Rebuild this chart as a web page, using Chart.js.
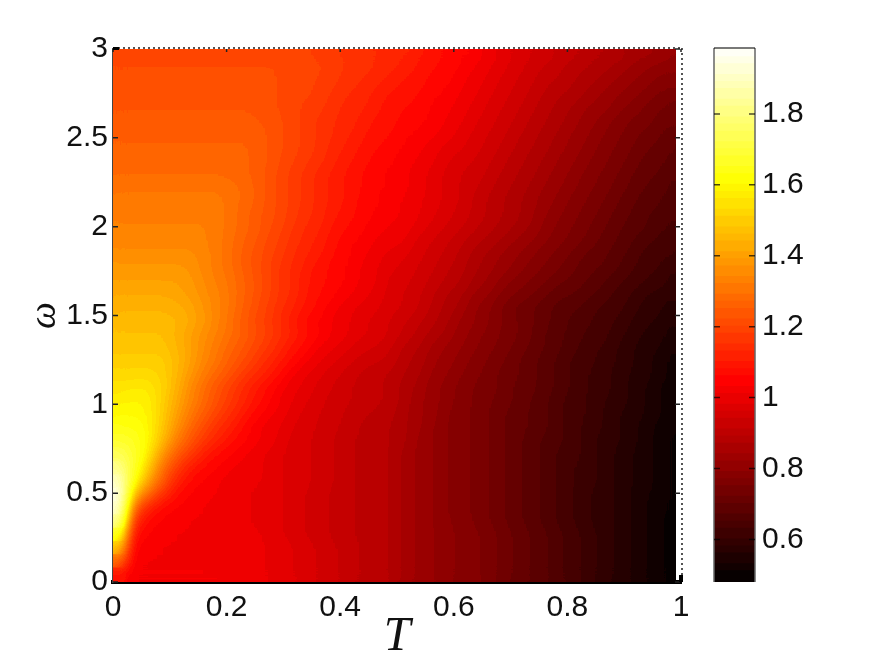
<!DOCTYPE html>
<html>
<head>
<meta charset="utf-8">
<title>T - omega map</title>
<script src="https://cdn.jsdelivr.net/npm/chart.js@4"></script>
<style>
html, body { margin: 0; padding: 0; background: #fff; }
#wrap { position: relative; width: 872px; height: 656px; overflow: hidden; }
canvas { position: absolute; top: 0; display: block; }
#mainChart { left: 0; }
#barChart { left: 690px; }
</style>
</head>
<body>
<div id="wrap">
<canvas id="mainChart" width="872" height="656"></canvas>
<canvas id="barChart" width="182" height="656"></canvas>
</div>
<script>
// tick labels
var xTicks = [0, 0.2, 0.4, 0.6, 0.8, 1];
var yTicks = [0, 0.5, 1, 1.5, 2, 2.5, 3];
var barTicks = [0.6, 0.8, 1, 1.2, 1.4, 1.6, 1.8];

// cell centres
var tValues = [0.0125,0.0375,0.0625,0.0875,0.1125,0.1375,0.1625,0.1875,0.2125,0.2375,0.2625,0.2875,0.3125,0.3375,0.3625,0.3875,0.4125,0.4375,0.4625,0.4875,0.5125,0.5375,0.5625,0.5875,0.6125,0.6375,0.6625,0.6875,0.7125,0.7375,0.7625,0.7875,0.8125,0.8375,0.8625,0.8875,0.9125,0.9375,0.9625,0.9875];
var wValues = [2.9625,2.8875,2.8125,2.7375,2.6625,2.5875,2.5125,2.4375,2.3625,2.2875,2.2125,2.1375,2.0625,1.9875,1.9125,1.8375,1.7625,1.6875,1.6125,1.5375,1.4625,1.3875,1.3125,1.2375,1.1625,1.0875,1.0125,0.9375,0.8625,0.7875,0.7125,0.6375,0.5625,0.4875,0.4125,0.3375,0.2625,0.1875,0.1125,0.0375];

// values, in hundredths, one row per omega from the top down
var cells = [
[120,120,120,120,120,120,120,120,120,120,120,120,120,119,118,117,116,115,114,113,112,110,108,107,105,104,101,99,97,95,94,92,91,89,88,87,85,84,83,81],
[121,121,121,121,121,121,121,121,121,121,121,121,120,120,119,118,116,115,114,112,111,109,107,106,104,102,100,98,96,94,92,91,89,88,86,85,83,81,80,79],
[122,122,122,122,122,122,122,122,122,122,122,121,120,120,118,117,115,114,112,111,109,108,106,105,103,101,99,97,95,93,91,90,88,86,85,83,81,80,78,77],
[122,122,122,122,122,122,122,122,122,122,122,121,120,119,118,116,114,113,111,109,108,107,105,104,102,100,98,96,94,92,90,88,87,85,83,81,80,78,76,75],
[123,123,123,123,123,123,123,123,123,123,122,121,120,118,117,115,113,112,110,108,107,106,104,103,101,99,97,95,93,91,89,87,85,83,82,80,78,76,74,73],
[124,124,124,124,124,124,124,124,124,124,123,122,120,118,116,114,113,111,109,108,106,105,104,102,100,98,96,94,92,90,88,86,84,82,80,78,76,75,73,72],
[125,125,125,125,125,125,125,125,125,125,124,122,120,118,116,114,112,110,108,107,105,104,103,101,99,97,95,93,91,89,87,85,83,81,79,77,75,73,72,70],
[126,126,126,126,126,126,126,126,126,126,124,122,120,118,116,113,111,109,107,106,104,103,101,99,98,96,94,92,90,88,86,84,82,80,78,76,74,72,71,69],
[127,127,127,127,127,127,127,127,127,126,124,122,119,117,115,112,110,108,106,105,103,102,100,98,96,95,93,91,89,87,85,83,81,79,77,75,73,71,70,68],
[128,128,128,128,128,128,128,128,127,126,124,121,118,116,113,111,109,107,105,104,103,101,99,97,95,94,92,90,88,86,84,82,80,78,76,74,72,70,69,67],
[130,130,130,130,130,130,130,130,129,127,124,121,118,116,113,111,109,107,105,104,103,101,99,97,95,93,91,89,87,85,83,81,79,77,75,73,71,69,68,66],
[131,131,131,131,131,131,131,131,129,127,124,121,118,116,113,111,109,106,105,103,102,100,99,97,95,92,90,88,86,84,82,80,78,76,74,72,70,68,67,65],
[132,132,132,132,132,132,132,131,129,126,123,121,118,115,113,110,108,106,104,103,102,100,98,96,94,92,90,88,86,84,81,79,77,75,73,71,69,67,66,65],
[133,133,133,133,133,133,133,131,129,126,123,120,117,114,112,109,107,105,103,102,101,99,97,95,93,91,89,87,85,83,80,78,76,74,72,70,68,67,65,64],
[134,134,134,134,134,134,133,131,128,125,122,119,116,113,111,108,105,104,102,101,100,97,95,93,91,89,87,85,83,81,79,77,75,73,71,69,67,65,64,63],
[136,136,136,136,136,136,134,131,128,124,121,118,115,112,110,107,105,103,101,99,98,96,94,92,90,87,85,83,81,79,77,75,73,71,70,68,66,64,63,62],
[138,138,138,138,138,137,134,131,128,124,121,117,114,111,108,106,104,102,100,98,97,95,93,91,89,86,84,82,80,78,76,74,72,70,69,67,65,63,62,60],
[140,140,140,140,140,138,135,132,129,125,121,117,114,110,108,106,104,102,100,97,96,94,92,90,88,85,83,80,78,76,74,72,71,69,67,65,64,62,61,59],
[142,142,142,142,141,139,136,133,129,125,121,117,114,110,107,105,103,101,99,97,95,93,91,88,86,83,81,78,76,74,72,70,69,67,66,64,62,60,59,58],
[144,144,144,144,143,141,137,133,129,124,120,116,112,109,106,103,101,99,98,96,95,93,90,87,85,81,79,76,73,72,70,68,67,66,64,63,61,59,58,56],
[146,146,146,146,145,142,138,133,128,123,119,115,111,107,104,102,100,98,97,95,93,91,89,86,83,81,79,76,74,72,70,68,66,65,63,62,60,58,57,55],
[147,147,147,147,144,140,136,132,128,124,120,116,112,108,105,102,100,98,97,95,92,90,87,85,82,80,78,76,74,72,69,67,66,64,63,61,59,57,56,54],
[148,148,148,148,145,140,135,130,126,122,118,114,109,106,102,100,98,96,95,93,90,88,85,83,81,79,77,75,73,71,69,67,65,63,62,60,58,56,55,53],
[150,150,150,150,146,140,134,129,124,120,115,111,107,103,100,98,96,94,93,92,89,87,84,82,80,78,76,74,72,70,68,66,64,63,61,60,58,56,54,52],
[152,153,153,151,145,138,131,126,121,116,112,108,103,100,98,96,94,92,91,90,88,86,83,81,79,77,75,73,72,70,68,66,64,62,61,59,57,56,54,52],
[155,156,156,152,144,135,128,122,117,112,108,104,101,99,97,95,93,92,91,90,87,85,82,80,78,76,75,73,71,70,68,66,64,62,61,59,57,55,53,51],
[158,159,158,151,142,134,127,121,116,111,107,103,100,98,96,94,93,92,91,90,87,84,82,80,78,76,74,73,71,69,67,65,63,62,60,59,57,55,53,51],
[160,160,159,150,140,131,124,118,113,108,104,102,99,97,95,94,92,91,90,89,86,84,82,79,77,76,74,72,70,69,67,65,63,62,60,58,56,55,53,51],
[164,163,160,149,137,127,120,114,110,105,102,100,98,96,95,93,92,90,89,88,86,84,81,79,77,76,74,72,70,69,67,65,63,61,60,58,56,54,52,51],
[168,166,160,146,132,123,116,111,107,104,102,100,97,96,94,93,91,90,89,88,86,83,81,79,77,76,74,72,70,68,66,65,63,61,59,58,56,54,52,50],
[174,168,157,138,125,117,110,106,104,102,100,98,97,96,94,93,91,90,89,88,85,83,81,79,77,76,74,72,70,68,66,64,63,61,59,57,55,54,52,50],
[182,167,150,130,118,110,106,104,102,101,100,98,97,96,94,93,91,90,89,88,85,83,81,79,77,76,74,72,70,68,66,64,62,61,59,57,55,54,52,50],
[190,163,141,125,112,106,104,102,101,100,100,98,97,96,94,93,91,90,89,88,85,83,81,79,77,76,74,72,70,68,66,64,62,61,59,57,55,54,52,50],
[195,147,128,115,107,104,103,102,101,100,99,98,97,95,94,92,91,90,89,88,85,83,81,79,77,76,74,72,70,68,66,64,62,60,59,57,55,53,52,50],
[192,128,112,106,104,103,102,101,100,100,99,98,97,95,94,92,91,90,89,88,85,83,81,79,77,76,74,72,70,68,66,64,62,60,59,57,55,53,51,50],
[182,115,106,104,103,102,102,101,100,100,99,98,97,95,94,92,91,90,89,88,85,83,81,79,78,76,74,72,70,68,66,64,62,60,59,57,55,53,51,49],
[165,108,104,103,102,102,101,100,100,100,100,98,97,95,94,92,91,90,89,88,85,83,81,80,78,77,75,73,71,69,67,65,63,61,59,57,55,53,51,49],
[148,104,103,102,102,102,101,101,100,100,100,99,98,96,95,93,92,90,89,88,85,83,81,80,78,77,75,73,71,69,67,65,63,61,59,57,55,53,51,49],
[128,103,102,102,102,102,102,101,101,100,100,99,98,96,95,93,92,90,89,88,85,83,81,80,78,77,75,73,71,69,67,65,63,61,59,57,55,53,51,49],
[108,102,102,102,102,102,102,102,101,101,100,99,98,96,95,93,92,90,89,88,85,83,81,80,78,77,75,73,71,69,67,65,63,61,59,57,55,53,51,49]
];

// bands of the colour bar
var barLevels = [0.48,0.51,0.53,0.56,0.58,0.60,0.63,0.65,0.67,0.70,0.72,0.75,0.77,0.79,0.82,0.84,0.87,0.89,0.91,0.94,0.96,0.98,1.01,1.03,1.06,1.08,1.10,1.13,1.15,1.18,1.20,1.22,1.25,1.27,1.29,1.32,1.34,1.37,1.39,1.41,1.44,1.46,1.48,1.51,1.53,1.56,1.58,1.60,1.63,1.65,1.68,1.70,1.72,1.75,1.77,1.79,1.82,1.84,1.87,1.89,1.91,1.94,1.96,1.986];

var vMin = 0.48;
var vMax = 1.986;

// matlab "hot" colormap
function hotParts(t) {
    if (t < 0) t = 0;
    if (t > 1) t = 1;
    return [
        Math.round(Math.min(1, t / 0.375) * 255),
        Math.round(Math.max(0, Math.min(1, (t - 0.375) / 0.375)) * 255),
        Math.round(Math.max(0, (t - 0.75) / 0.25) * 255)
    ];
}

function hot(v) {
    var c = hotParts((v - vMin) / (vMax - vMin));
    return 'rgb(' + c[0] + ',' + c[1] + ',' + c[2] + ')';
}

var points = [];
var colors = [];
for (var j = 0; j < wValues.length; j++) {
    for (var i = 0; i < tValues.length; i++) {
        points.push({x: tValues[i], y: wValues[j]});
        colors.push(hot(cells[j][i] / 100));
    }
}

var tickFont = {family: '"Liberation Sans", Arial, sans-serif', size: 30};

function fmt(v) {
    return String(v);
}

// the cells are smoothed like contourf, inside the area of the image only,
// then the colours are snapped back on the 64 steps of the colormap
var smoothCells = {
    id: 'smoothCells',
    afterDatasetsDraw: function(chart) {
        var ctx = chart.ctx;
        var a = chart.chartArea;
        var w = Math.round(a.right - a.left - 5);
        var h = Math.round(a.bottom - a.top);
        var x0 = Math.round(a.left);
        var y0 = Math.round(a.top);
        ctx.save();
        ctx.beginPath();
        ctx.rect(x0, y0, w, h);
        ctx.clip();
        ctx.filter = 'blur(7px)';
        ctx.drawImage(chart.canvas, x0, y0, w, h, x0, y0, w, h);
        ctx.restore();

        var img = ctx.getImageData(x0, y0, w, h);
        var d = img.data;
        for (var p = 0; p < d.length; p += 4) {
            var s = (d[p] + d[p + 1] + d[p + 2]) / 255;
            var t = s < 2 ? 0.375 * s : 0.75 + 0.25 * (s - 2);
            var level = Math.min(63, Math.floor(t * 64));
            var c = hotParts((level + 0.5) / 64);
            d[p] = c[0];
            d[p + 1] = c[1];
            d[p + 2] = c[2];
        }
        ctx.putImageData(img, x0, y0);
    }
};

// dotted box and small inward ticks
var boxLines = {
    id: 'boxLines',
    afterDraw: function(chart) {
        var ctx = chart.ctx;
        var a = chart.chartArea;
        ctx.save();
        ctx.strokeStyle = '#555';
        ctx.lineWidth = 2;
        ctx.setLineDash([2, 3]);
        ctx.beginPath();
        ctx.moveTo(a.left, a.top - 1);
        ctx.lineTo(a.right + 1, a.top - 1);
        ctx.moveTo(a.right + 1, a.top - 1);
        ctx.lineTo(a.right + 1, a.bottom);
        ctx.stroke();
        ctx.setLineDash([]);
        ctx.strokeStyle = '#222';
        ctx.lineWidth = 1.5;
        ctx.beginPath();
        chart.scales.y.ticks.forEach(function(t) {
            var y = chart.scales.y.getPixelForValue(t.value);
            ctx.moveTo(a.right - 6, y);
            ctx.lineTo(a.right - 1, y);
            ctx.moveTo(a.left, y);
            ctx.lineTo(a.left + 5, y);
        });
        chart.scales.x.ticks.forEach(function(t) {
            var x = chart.scales.x.getPixelForValue(t.value);
            ctx.moveTo(x, a.top);
            ctx.lineTo(x, a.top + 3);
        });
        ctx.stroke();
        ctx.fillStyle = '#000';
        ctx.fillRect(a.right - 2, a.bottom - 7, 4, 7);
        ctx.fillRect(a.left, a.top - 2, 6, 3);
        ctx.restore();
    }
};

new Chart(document.getElementById('mainChart'), {
    type: 'scatter',
    data: {
        datasets: [{
            data: points,
            pointStyle: 'rect',
            pointRadius: 11,
            pointBorderWidth: 0,
            pointBackgroundColor: colors,
            clip: {left: 0, top: 0, right: -5, bottom: 0}
        }]
    },
    options: {
        responsive: false,
        animation: false,
        events: [],
        layout: {padding: {left: 0, right: 191, top: 49, bottom: 0}},
        plugins: {legend: {display: false}, tooltip: {enabled: false}},
        scales: {
            x: {
                type: 'linear',
                min: 0,
                max: 1,
                z: 1,
                afterFit: function(s) { s.height = 74; },
                afterBuildTicks: function(s) { s.ticks = xTicks.map(function(v) { return {value: v}; }); },
                grid: {display: false, drawTicks: false},
                border: {display: true, color: '#000', width: 4},
                ticks: {color: '#111', font: tickFont, padding: 8, maxRotation: 0, autoSkip: false, callback: fmt},
                title: {
                    display: true,
                    text: 'T',
                    color: '#111',
                    font: {family: '"Liberation Serif", serif', style: 'italic', size: 48, lineHeight: 1},
                    padding: {top: 0, bottom: -5}
                }
            },
            y: {
                type: 'linear',
                min: 0,
                max: 3,
                z: 1,
                afterFit: function(s) { s.width = 113; },
                afterBuildTicks: function(s) { s.ticks = yTicks.map(function(v) { return {value: v}; }); },
                grid: {display: false, drawTicks: false},
                border: {display: true, color: '#444', width: 2},
                ticks: {color: '#111', font: tickFont, padding: 5, autoSkip: false, callback: fmt},
                title: {
                    display: true,
                    text: 'ω',
                    color: '#111',
                    font: {family: '"Liberation Serif", serif', style: 'italic', size: 38, lineHeight: 1},
                    padding: {top: 26, bottom: 0}
                }
            }
        }
    },
    plugins: [smoothCells, boxLines]
});

// colour bar, one floating bar for each band
var barSets = [];
for (var k = 0; k < barLevels.length - 1; k++) {
    barSets.push({
        data: [[barLevels[k], barLevels[k + 1] + 0.002]],
        backgroundColor: hot((barLevels[k] + barLevels[k + 1]) / 2),
        borderWidth: 0,
        barPercentage: 1,
        categoryPercentage: 1,
        grouped: false
    });
}

var barFrame = {
    id: 'barFrame',
    afterDraw: function(chart) {
        var ctx = chart.ctx;
        var a = chart.chartArea;
        ctx.save();
        ctx.strokeStyle = '#666';
        ctx.lineWidth = 1.5;
        ctx.beginPath();
        ctx.moveTo(a.left, a.top);
        ctx.lineTo(a.left, a.bottom);
        ctx.moveTo(a.right, a.top);
        ctx.lineTo(a.right, a.bottom);
        ctx.stroke();
        ctx.strokeStyle = '#000';
        ctx.beginPath();
        ctx.moveTo(a.left, a.top);
        ctx.lineTo(a.right, a.top);
        barTicks.forEach(function(v) {
            var y = chart.scales.y.getPixelForValue(v);
            ctx.moveTo(a.left, y);
            ctx.lineTo(a.left + 6, y);
            ctx.moveTo(a.right - 6, y);
            ctx.lineTo(a.right, y);
        });
        ctx.globalAlpha = 0.7;
        ctx.stroke();
        ctx.restore();
    }
};

new Chart(document.getElementById('barChart'), {
    type: 'bar',
    data: {labels: ['v'], datasets: barSets},
    options: {
        responsive: false,
        animation: false,
        events: [],
        layout: {padding: {left: 24, right: 0, top: 48, bottom: 74}},
        plugins: {legend: {display: false}, tooltip: {enabled: false}},
        scales: {
            x: {display: false, stacked: false},
            y: {
                position: 'right',
                min: vMin,
                max: vMax,
                afterFit: function(s) { s.width = 117; },
                afterBuildTicks: function(s) { s.ticks = barTicks.map(function(v) { return {value: v}; }); },
                grid: {display: false, drawTicks: false},
                border: {display: false},
                ticks: {color: '#111', font: tickFont, padding: 7, autoSkip: false, callback: fmt}
            }
        }
    },
    plugins: [barFrame]
});
</script>
</body>
</html>
